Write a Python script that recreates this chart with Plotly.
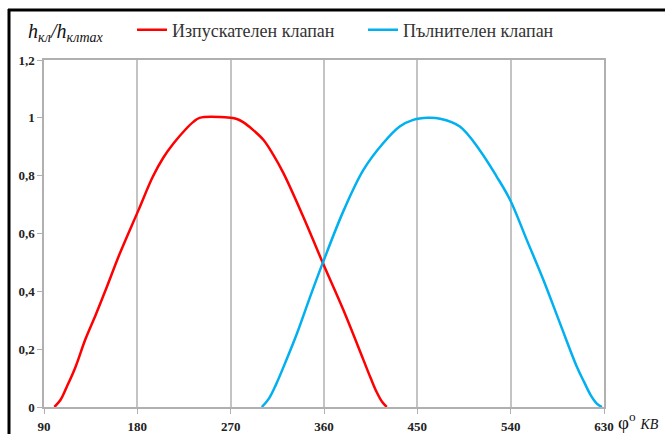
import plotly.graph_objects as go

# Exhaust valve (Изпускателен клапан)
exh_deg = [100, 106, 112, 120, 130, 140, 150, 163, 181, 195, 205, 215, 226, 234, 240, 270, 276, 282, 291, 301.5, 311, 321, 340, 359, 378.6, 398, 405, 411, 416, 420.5]
exh_val = [0, 0.025, 0.07, 0.135, 0.235, 0.32, 0.41, 0.53, 0.68, 0.797, 0.862, 0.912, 0.958, 0.986, 1.0, 1.0, 0.996, 0.985, 0.96, 0.924, 0.873, 0.808, 0.658, 0.497, 0.336, 0.163, 0.1, 0.05, 0.018, 0]

# Intake valve (Пълнителен клапан)
int_deg = [300, 307, 314, 324, 334, 346, 359, 379, 398, 417, 433, 446, 460, 472, 491, 510, 526.5, 539.5, 555.5, 571.5, 587.5, 603.7, 611, 617, 623, 628]
int_val = [0, 0.03, 0.08, 0.165, 0.255, 0.375, 0.5, 0.68, 0.82, 0.912, 0.97, 0.993, 1.0, 0.997, 0.97, 0.889, 0.797, 0.716, 0.578, 0.44, 0.29, 0.14, 0.085, 0.042, 0.012, 0]

x_ticks = [90, 180, 270, 360, 450, 540, 630]
y_ticks = [0, 0.2, 0.4, 0.6, 0.8, 1.0, 1.2]
y_ticktext = ["0", "0,2", "0,4", "0,6", "0,8", "1", "1,2"]

SERIF = "Liberation Serif"

fig = go.Figure()
fig.add_trace(go.Scatter(x=exh_deg, y=exh_val, mode="lines", name="Изпускателен клапан",
                         line=dict(color="#ff0000", width=2.5, shape="spline", smoothing=1.0)))
fig.add_trace(go.Scatter(x=int_deg, y=int_val, mode="lines", name="Пълнителен клапан",
                         line=dict(color="#00b0f0", width=2.5, shape="spline", smoothing=1.0)))

L, R, T, B = 44, 61, 60, 27
W, H = 665, 434
pw, ph = W - L - R, H - T - B

def px(xp):
    return (xp - L) / pw

def py(yp):
    return (H - B - yp) / ph

fig.update_layout(
    width=W, height=H,
    margin=dict(l=L, r=R, t=T, b=B, autoexpand=False),
    paper_bgcolor="white", plot_bgcolor="white",
    font=dict(family=SERIF, color="#222222"),
    showlegend=True,
    legend=dict(orientation="h", x=px(132), y=py(30), xanchor="left", yanchor="middle",
                font=dict(family=SERIF, size=18, color="#333333"),
                itemwidth=30, entrywidth=186, bgcolor="rgba(0,0,0,0)"),
    xaxis=dict(range=[90, 630], tickvals=x_ticks, ticktext=[str(v) for v in x_ticks],
               showgrid=True, gridcolor="#c4c4c4", gridwidth=1.5, automargin=False,
               showline=True, linecolor="#b0b0b0", linewidth=1.5, mirror=True,
               ticks="outside", ticklen=5, tickcolor="#b0b0b0", ticklabelstandoff=2,
               tickfont=dict(family=SERIF, size=13, color="#222222", weight="bold"),
               zeroline=False, fixedrange=True),
    yaxis=dict(range=[0, 1.2], tickvals=y_ticks, ticktext=y_ticktext,
               showgrid=False, automargin=False,
               showline=True, linecolor="#b0b0b0", linewidth=1.5, mirror=True,
               ticks="outside", ticklen=5, tickcolor="#b0b0b0",
               tickfont=dict(family=SERIF, size=13, color="#222222", weight="bold"),
               zeroline=False, fixedrange=True),
    shapes=[
        dict(type="line", xref="paper", yref="paper", x0=px(9), x1=px(9), y0=py(9), y1=py(450),
             line=dict(color="black", width=3)),
        dict(type="line", xref="paper", yref="paper", x0=px(8), x1=px(680), y0=py(10), y1=py(10),
             line=dict(color="black", width=3)),
    ],
    annotations=[
        dict(xref="paper", yref="paper", x=px(26), y=py(33), xanchor="left", yanchor="middle",
             showarrow=False,
             text="<i>h</i><sub><i>кл</i></sub><i>/h</i><sub><i>клmax</i></sub>",
             font=dict(family=SERIF, size=20, color="#111111")),
        dict(xref="paper", yref="paper", x=px(616), y=py(421), xanchor="left", yanchor="middle",
             showarrow=False,
             text="φ<sup>o</sup> <i><span style='font-size:14px'>КВ</span></i>",
             font=dict(family=SERIF, size=19, color="#111111")),
    ],
)

fig.write_html("out.html")
